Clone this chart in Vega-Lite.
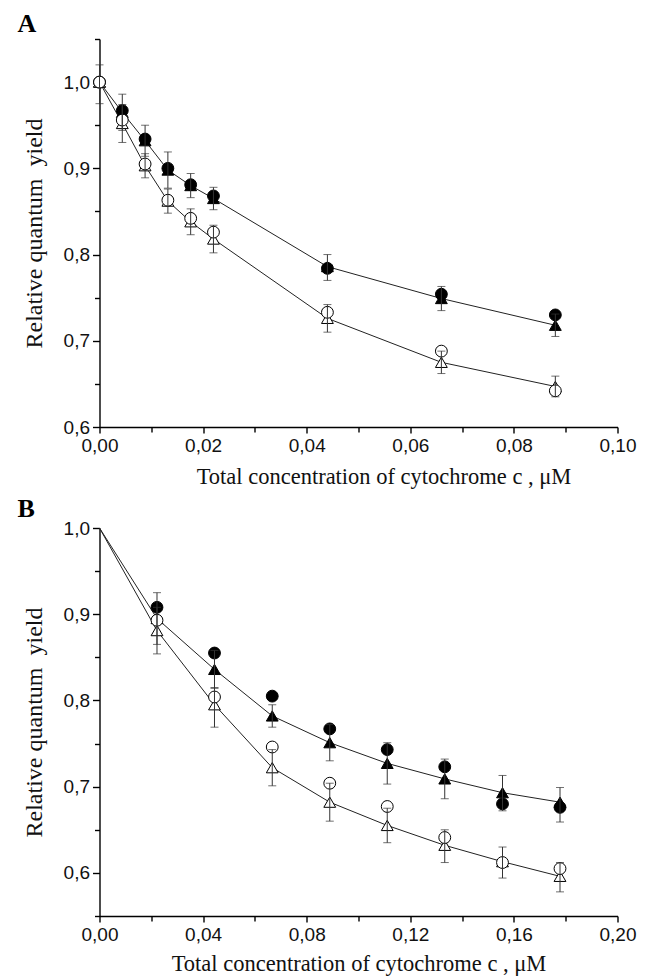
{
  "$schema": "https://vega.github.io/schema/vega-lite/v6.json",
  "background": "white",
  "padding": {"left": 17.5, "top": 11, "right": 8, "bottom": 2},
  "spacing": 8,
  "config": {
    "view": {"stroke": null},
    "axis": {
      "grid": false,
      "domainColor": "#000000",
      "domainWidth": 1.4,
      "tickColor": "#000000",
      "tickWidth": 1.4,
      "labelFont": "Liberation Sans",
      "labelFontSize": 19,
      "labelColor": "#111111",
      "labelFlush": false,
      "labelOverlap": false,
      "titleFont": "Liberation Serif",
      "titleFontSize": 22.5,
      "titleFontWeight": "normal",
      "titleColor": "#111111"
    },
    "axisY": {"titleFontSize": 24},
    "title": {"font": "Liberation Serif", "fontSize": 26, "fontWeight": "bold", "color": "#000000", "anchor": "start", "frame": "group"}
  },
  "datasets": {
    "panelA": [
      {"x": 0, "y": 1.0, "series": "closed", "symbol": "triangle", "lo": null, "hi": null},
      {"x": 0.0044, "y": 0.965, "series": "closed", "symbol": "triangle", "lo": 0.944, "hi": 0.986},
      {"x": 0.0088, "y": 0.932, "series": "closed", "symbol": "triangle", "lo": 0.914, "hi": 0.95},
      {"x": 0.0132, "y": 0.898, "series": "closed", "symbol": "triangle", "lo": 0.877, "hi": 0.919},
      {"x": 0.0176, "y": 0.88, "series": "closed", "symbol": "triangle", "lo": 0.866, "hi": 0.894},
      {"x": 0.022, "y": 0.865, "series": "closed", "symbol": "triangle", "lo": 0.852, "hi": 0.878},
      {"x": 0.044, "y": 0.786, "series": "closed", "symbol": "triangle", "lo": 0.77, "hi": 0.8},
      {"x": 0.066, "y": 0.749, "series": "closed", "symbol": "triangle", "lo": 0.735, "hi": 0.763},
      {"x": 0.088, "y": 0.718, "series": "closed", "symbol": "triangle", "lo": 0.705, "hi": 0.731},
      {"x": 0, "y": 1.0, "series": "closed", "symbol": "circle", "lo": null, "hi": null},
      {"x": 0.0044, "y": 0.967, "series": "closed", "symbol": "circle", "lo": null, "hi": null},
      {"x": 0.0088, "y": 0.934, "series": "closed", "symbol": "circle", "lo": null, "hi": null},
      {"x": 0.0132, "y": 0.9, "series": "closed", "symbol": "circle", "lo": null, "hi": null},
      {"x": 0.0176, "y": 0.881, "series": "closed", "symbol": "circle", "lo": null, "hi": null},
      {"x": 0.022, "y": 0.868, "series": "closed", "symbol": "circle", "lo": null, "hi": null},
      {"x": 0.044, "y": 0.784, "series": "closed", "symbol": "circle", "lo": null, "hi": null},
      {"x": 0.066, "y": 0.754, "series": "closed", "symbol": "circle", "lo": null, "hi": null},
      {"x": 0.088, "y": 0.73, "series": "closed", "symbol": "circle", "lo": null, "hi": null},
      {"x": 0, "y": 1.0, "series": "open", "symbol": "triangle", "lo": 0.975, "hi": 1.02},
      {"x": 0.0044, "y": 0.952, "series": "open", "symbol": "triangle", "lo": 0.93, "hi": 0.974},
      {"x": 0.0088, "y": 0.903, "series": "open", "symbol": "triangle", "lo": 0.889, "hi": 0.917},
      {"x": 0.0132, "y": 0.862, "series": "open", "symbol": "triangle", "lo": 0.848, "hi": 0.876},
      {"x": 0.0176, "y": 0.838, "series": "open", "symbol": "triangle", "lo": 0.823, "hi": 0.853},
      {"x": 0.022, "y": 0.818, "series": "open", "symbol": "triangle", "lo": 0.802, "hi": 0.834},
      {"x": 0.044, "y": 0.726, "series": "open", "symbol": "triangle", "lo": 0.71, "hi": 0.742},
      {"x": 0.066, "y": 0.675, "series": "open", "symbol": "triangle", "lo": 0.662, "hi": 0.688},
      {"x": 0.088, "y": 0.647, "series": "open", "symbol": "triangle", "lo": 0.635, "hi": 0.659},
      {"x": 0, "y": 1.0, "series": "open", "symbol": "circle", "lo": null, "hi": null},
      {"x": 0.0044, "y": 0.956, "series": "open", "symbol": "circle", "lo": null, "hi": null},
      {"x": 0.0088, "y": 0.905, "series": "open", "symbol": "circle", "lo": null, "hi": null},
      {"x": 0.0132, "y": 0.863, "series": "open", "symbol": "circle", "lo": null, "hi": null},
      {"x": 0.0176, "y": 0.842, "series": "open", "symbol": "circle", "lo": null, "hi": null},
      {"x": 0.022, "y": 0.826, "series": "open", "symbol": "circle", "lo": null, "hi": null},
      {"x": 0.044, "y": 0.733, "series": "open", "symbol": "circle", "lo": null, "hi": null},
      {"x": 0.066, "y": 0.688, "series": "open", "symbol": "circle", "lo": null, "hi": null},
      {"x": 0.088, "y": 0.642, "series": "open", "symbol": "circle", "lo": null, "hi": null}
    ],
    "panelB": [
      {"x": 0, "y": 1.0, "series": "closed", "symbol": "triangle", "lo": null, "hi": null},
      {"x": 0.0222, "y": 0.895, "series": "closed", "symbol": "triangle", "lo": 0.865, "hi": 0.925},
      {"x": 0.0444, "y": 0.836, "series": "closed", "symbol": "triangle", "lo": 0.814, "hi": 0.858},
      {"x": 0.0667, "y": 0.782, "series": "closed", "symbol": "triangle", "lo": 0.769, "hi": 0.795},
      {"x": 0.0889, "y": 0.751, "series": "closed", "symbol": "triangle", "lo": 0.73, "hi": 0.772},
      {"x": 0.1111, "y": 0.727, "series": "closed", "symbol": "triangle", "lo": 0.703, "hi": 0.751},
      {"x": 0.1333, "y": 0.709, "series": "closed", "symbol": "triangle", "lo": 0.686, "hi": 0.732},
      {"x": 0.1556, "y": 0.693, "series": "closed", "symbol": "triangle", "lo": 0.672, "hi": 0.713},
      {"x": 0.1778, "y": 0.682, "series": "closed", "symbol": "triangle", "lo": 0.659, "hi": 0.699},
      {"x": 0.0222, "y": 0.908, "series": "closed", "symbol": "circle", "lo": null, "hi": null},
      {"x": 0.0444, "y": 0.855, "series": "closed", "symbol": "circle", "lo": null, "hi": null},
      {"x": 0.0667, "y": 0.805, "series": "closed", "symbol": "circle", "lo": null, "hi": null},
      {"x": 0.0889, "y": 0.767, "series": "closed", "symbol": "circle", "lo": null, "hi": null},
      {"x": 0.1111, "y": 0.743, "series": "closed", "symbol": "circle", "lo": null, "hi": null},
      {"x": 0.1333, "y": 0.723, "series": "closed", "symbol": "circle", "lo": null, "hi": null},
      {"x": 0.1556, "y": 0.68, "series": "closed", "symbol": "circle", "lo": null, "hi": null},
      {"x": 0.1778, "y": 0.676, "series": "closed", "symbol": "circle", "lo": null, "hi": null},
      {"x": 0, "y": 1.0, "series": "open", "symbol": "triangle", "lo": null, "hi": null},
      {"x": 0.0222, "y": 0.881, "series": "open", "symbol": "triangle", "lo": 0.854, "hi": 0.908},
      {"x": 0.0444, "y": 0.795, "series": "open", "symbol": "triangle", "lo": 0.769, "hi": 0.815},
      {"x": 0.0667, "y": 0.722, "series": "open", "symbol": "triangle", "lo": 0.701, "hi": 0.743},
      {"x": 0.0889, "y": 0.682, "series": "open", "symbol": "triangle", "lo": 0.66, "hi": 0.704},
      {"x": 0.1111, "y": 0.655, "series": "open", "symbol": "triangle", "lo": 0.635, "hi": 0.675},
      {"x": 0.1333, "y": 0.632, "series": "open", "symbol": "triangle", "lo": 0.612, "hi": 0.65},
      {"x": 0.1556, "y": 0.613, "series": "open", "symbol": "triangle", "lo": 0.594, "hi": 0.63},
      {"x": 0.1778, "y": 0.596, "series": "open", "symbol": "triangle", "lo": 0.578, "hi": 0.612},
      {"x": 0.0222, "y": 0.893, "series": "open", "symbol": "circle", "lo": null, "hi": null},
      {"x": 0.0444, "y": 0.804, "series": "open", "symbol": "circle", "lo": null, "hi": null},
      {"x": 0.0667, "y": 0.746, "series": "open", "symbol": "circle", "lo": null, "hi": null},
      {"x": 0.0889, "y": 0.704, "series": "open", "symbol": "circle", "lo": null, "hi": null},
      {"x": 0.1111, "y": 0.677, "series": "open", "symbol": "circle", "lo": null, "hi": null},
      {"x": 0.1333, "y": 0.641, "series": "open", "symbol": "circle", "lo": null, "hi": null},
      {"x": 0.1556, "y": 0.612, "series": "open", "symbol": "circle", "lo": null, "hi": null},
      {"x": 0.1778, "y": 0.605, "series": "open", "symbol": "circle", "lo": null, "hi": null}
    ]
  },
  "vconcat": [
    {
      "title": {"text": "A", "dx": -82, "offset": -7},
      "width": 518,
      "height": 388,
      "data": {"name": "panelA"},
      "encoding": {
        "x": {
          "field": "x", "type": "quantitative",
          "scale": {"domain": [0, 0.1], "nice": false, "zero": false},
          "axis": {
            "title": "Total concentration of cytochrome c , μM",
            "titleX": 284,
            "values": [0, 0.01, 0.02, 0.03, 0.04, 0.05, 0.06, 0.07, 0.08, 0.09, 0.1],
            "format": ".2f",
            "labelExpr": "round(datum.value * 100) % 2 == 0 ? replace(datum.label, '.', ',') : ''",
            "tickSize": {"condition": {"test": "round(datum.value * 100) % 2 == 0", "value": 6}, "value": 5},
            "labelPadding": 3,
            "titlePadding": 10
          }
        },
        "y": {
          "field": "y", "type": "quantitative",
          "scale": {"domain": [0.6, 1.05], "nice": false, "zero": false},
          "axis": {
            "title": "Relative quantum\u00a0 yield",
            "values": [0.6, 0.65, 0.7, 0.75, 0.8, 0.85, 0.9, 0.95, 1.0, 1.05],
            "format": ".1f",
            "labelExpr": "round(datum.value * 100) % 10 == 0 ? replace(datum.label, '.', ',') : ''",
            "tickSize": {"condition": {"test": "round(datum.value * 100) % 10 == 0", "value": 7}, "value": 5},
            "labelPadding": 3,
            "titlePadding": 17
          }
        }
      },
      "layer": [
        {
          "transform": [{"filter": "datum.symbol == 'triangle'"}],
          "mark": {"type": "line", "color": "#222222", "strokeWidth": 1},
          "encoding": {"detail": {"field": "series"}, "order": {"field": "x", "type": "quantitative"}}
        },
        {
          "mark": {"type": "point", "filled": true, "stroke": "#000000", "strokeWidth": 1, "size": 140, "opacity": 1},
          "encoding": {
            "shape": {"field": "symbol", "type": "nominal", "scale": {"domain": ["circle", "triangle"], "range": ["circle", "triangle-up"]}, "legend": null},
            "fill": {"field": "series", "type": "nominal", "scale": {"domain": ["closed", "open"], "range": ["#000000", "#ffffff"]}, "legend": null}
          }
        },
        {
          "transform": [{"filter": "datum.lo != null"}],
          "mark": {"type": "errorbar", "ticks": {"size": 8}, "color": "#333333", "thickness": 1},
          "encoding": {
            "y": {"field": "lo", "type": "quantitative"},
            "y2": {"field": "hi"}
          }
        }
      ]
    },
    {
      "title": {"text": "B", "dx": -82, "offset": -3},
      "width": 518,
      "height": 388,
      "data": {"name": "panelB"},
      "encoding": {
        "x": {
          "field": "x", "type": "quantitative",
          "scale": {"domain": [0, 0.2], "nice": false, "zero": false},
          "axis": {
            "title": "Total concentration of cytochrome c , μM",
            "values": [0, 0.02, 0.04, 0.06, 0.08, 0.1, 0.12, 0.14, 0.16, 0.18, 0.2],
            "format": ".2f",
            "labelExpr": "round(datum.value * 100) % 4 == 0 ? replace(datum.label, '.', ',') : ''",
            "tickSize": {"condition": {"test": "round(datum.value * 100) % 4 == 0", "value": 6}, "value": 5},
            "labelPadding": 3,
            "titlePadding": 8
          }
        },
        "y": {
          "field": "y", "type": "quantitative",
          "scale": {"domain": [0.55, 1.0], "nice": false, "zero": false},
          "axis": {
            "title": "Relative quantum\u00a0 yield",
            "values": [0.55, 0.6, 0.65, 0.7, 0.75, 0.8, 0.85, 0.9, 0.95, 1.0],
            "format": ".1f",
            "labelExpr": "round(datum.value * 100) % 10 == 0 ? replace(datum.label, '.', ',') : ''",
            "tickSize": {"condition": {"test": "round(datum.value * 100) % 10 == 0", "value": 7}, "value": 5},
            "labelPadding": 3,
            "titlePadding": 17
          }
        }
      },
      "layer": [
        {
          "transform": [{"filter": "datum.symbol == 'triangle'"}],
          "mark": {"type": "line", "color": "#222222", "strokeWidth": 1},
          "encoding": {"detail": {"field": "series"}, "order": {"field": "x", "type": "quantitative"}}
        },
        {
          "transform": [{"filter": "datum.x > 0"}],
          "mark": {"type": "point", "filled": true, "stroke": "#000000", "strokeWidth": 1, "size": 140, "opacity": 1},
          "encoding": {
            "shape": {"field": "symbol", "type": "nominal", "scale": {"domain": ["circle", "triangle"], "range": ["circle", "triangle-up"]}, "legend": null},
            "fill": {"field": "series", "type": "nominal", "scale": {"domain": ["closed", "open"], "range": ["#000000", "#ffffff"]}, "legend": null}
          }
        },
        {
          "transform": [{"filter": "datum.lo != null"}],
          "mark": {"type": "errorbar", "ticks": {"size": 8}, "color": "#333333", "thickness": 1},
          "encoding": {
            "y": {"field": "lo", "type": "quantitative"},
            "y2": {"field": "hi"}
          }
        }
      ]
    }
  ]
}
